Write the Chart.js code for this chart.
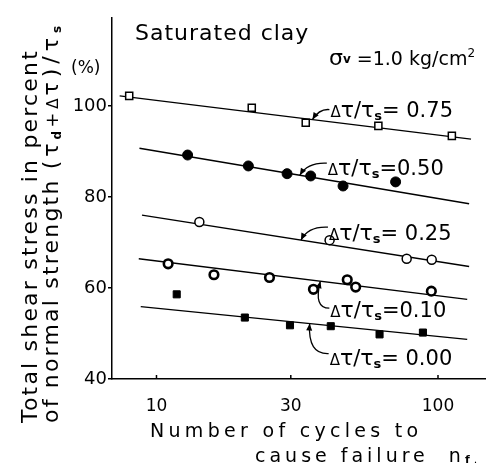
<!DOCTYPE html>
<html>
<head>
<meta charset="utf-8">
<script src="https://cdn.jsdelivr.net/npm/chart.js@4.4.1/dist/chart.umd.min.js"></script>
<style>
  html, body { margin: 0; padding: 0; background: #fff; }
  #wrap { width: 492px; height: 465px; position: relative; }
</style>
</head>
<body>
<div id="wrap"><canvas id="fatigue"></canvas></div>
<script>
const FONT = '"DejaVu Sans", sans-serif';

// axis ticks
const xTicks = [10, 30, 100];
const yTicks = [40, 60, 80, 100];

// Δτ/τs groups
const ratios = ['0.75', '0.50', '0.25', '0.10', '0.00'];

// measured points: cycles to failure / total shear stress (%)
const cycles075 = [8.0, 21.8, 33.9, 61.4, 112];
const stress075 = [102.2, 99.6, 96.3, 95.6, 93.4];
const cycles050 = [12.9, 21.2, 29.1, 35.3, 46.0, 70.7];
const stress050 = [89.2, 86.8, 85.1, 84.6, 82.4, 83.3];
const cycles025 = [14.2, 41.2, 77.4, 95];
const stress025 = [74.5, 70.5, 66.4, 66.2];
const cycles010 = [11.0, 16.0, 25.2, 36.1, 47.6, 51.0, 94.7];
const stress010 = [65.3, 62.9, 62.3, 59.7, 61.8, 60.2, 59.3];
const cycles000 = [11.8, 20.6, 29.8, 41.6, 62.0, 88.4];
const stress000 = [58.6, 53.5, 51.8, 51.6, 49.8, 50.2];

// fitted lines (start / end) per group
const fitStartN = [7.4, 8.7, 8.88, 8.65, 8.79];
const fitStartV = [102.2, 90.7, 76.0, 66.4, 55.9];
const fitEndN = [131, 129, 129, 127, 127];
const fitEndV = [92.7, 78.5, 64.7, 57.5, 48.7];

// where each label arrow touches its line (cycles)
const arrowAt = [35.8, 32.3, 32.6, 38.2, 35.0];

const pts = (xs, ys) => xs.map((x, i) => ({ x: x, y: ys[i] }));

const markerStyles = [
  { pointStyle: 'rect', pointRadius: 5, backgroundColor: '#fff', borderWidth: 1.5 },
  { pointStyle: 'circle', pointRadius: 5, backgroundColor: '#000', borderWidth: 1 },
  { pointStyle: 'circle', pointRadius: 4.5, backgroundColor: '#fff', borderWidth: 1.5 },
  { pointStyle: 'circle', pointRadius: 4.3, backgroundColor: '#fff', borderWidth: 2.6 },
  { pointStyle: 'rect', pointRadius: 5, backgroundColor: '#000', borderWidth: 1 }
];

const pointSets = [
  pts(cycles075, stress075),
  pts(cycles050, stress050),
  pts(cycles025, stress025),
  pts(cycles010, stress010),
  pts(cycles000, stress000)
];

const datasets = [];
pointSets.forEach((d, i) => {
  datasets.push(Object.assign({
    label: 'Δτ/τs = ' + ratios[i],
    data: d,
    borderColor: '#000',
    showLine: false,
    order: 0
  }, markerStyles[i]));
  datasets.push({
    label: 'fit ' + ratios[i],
    data: [{ x: fitStartN[i], y: fitStartV[i] }, { x: fitEndN[i], y: fitEndV[i] }],
    showLine: true,
    borderColor: '#000',
    borderWidth: 1.4,
    pointRadius: 0,
    order: 1
  });
});

// label placement relative to arrow tip: text (dx,dy), curve start (sx,sy), control (cx,cy)
const labelGeom = [
  { dx: 18, dy: -3, sx: 17, sy: -10, cx: 7, cy: -11, eq: '= 0.75' },
  { dx: 28, dy: 0, sx: 27, sy: -12, cx: 8, cy: -13, eq: '=0.50' },
  { dx: 28, dy: 0, sx: 27, sy: -13, cx: 7, cy: -14, eq: '= 0.25' },
  { dx: 10, dy: 36, sx: 9, sy: 27, cx: -7, cy: 27, eq: '=0.10' },
  { dx: 20, dy: 41, sx: 19, sy: 30, cx: -2, cy: 31, eq: '= 0.00' }
];

// parts: [text, size, baseline shift, weight, letter spacing]
function drawRuns(ctx, x, y, parts, spacing) {
  parts.forEach(p => {
    ctx.letterSpacing = (p[4] !== undefined ? p[4] : (spacing || 0)) + 'px';
    ctx.font = (p[3] || '') + ' ' + p[1] + 'px ' + FONT;
    ctx.fillText(p[0], x, y + (p[2] || 0));
    x += ctx.measureText(p[0]).width;
  });
  ctx.letterSpacing = '0px';
  return x;
}

function fitValue(i, n) {
  const t = (Math.log10(n) - Math.log10(fitStartN[i])) / (Math.log10(fitEndN[i]) - Math.log10(fitStartN[i]));
  return fitStartV[i] + t * (fitEndV[i] - fitStartV[i]);
}

const decorations = {
  id: 'decorations',
  afterDraw(chart) {
    const ctx = chart.ctx;
    const xs = chart.scales.x, ys = chart.scales.y;
    ctx.save();
    ctx.fillStyle = '#000';
    ctx.strokeStyle = '#000';
    ctx.textBaseline = 'alphabetic';
    ctx.textAlign = 'left';

    // inward ticks on the cycle axis
    ctx.lineWidth = 1.5;
    xTicks.forEach(v => {
      const px = xs.getPixelForValue(v);
      ctx.beginPath();
      ctx.moveTo(px, ys.bottom);
      ctx.lineTo(px, ys.bottom - 4);
      ctx.stroke();
    });

    // headings inside the plot
    drawRuns(ctx, 135, 40, [['Saturated clay', 22]], 1);
    drawRuns(ctx, 329, 65, [['σ', 22], ['v', 12, -2, 'bold'], [' =1.0 kg/cm', 19], ['2', 12, -8]], 0);
    drawRuns(ctx, 71, 73, [['(%)', 17]], 0);

    // group labels with curved arrows
    labelGeom.forEach((g, i) => {
      const tx = xs.getPixelForValue(arrowAt[i]);
      const ty = ys.getPixelForValue(fitValue(i, arrowAt[i]));
      drawRuns(ctx, tx + g.dx, ty + g.dy, [
        ['Δ', 15], ['τ', 22], ['/', 21], ['τ', 22], ['s', 13, 3, 'bold'], [g.eq, 21]
      ], 0);
      const cx = tx + g.cx, cy = ty + g.cy;
      ctx.lineWidth = 1.3;
      ctx.beginPath();
      ctx.moveTo(tx + g.sx, ty + g.sy);
      ctx.quadraticCurveTo(cx, cy, tx, ty);
      ctx.stroke();
      const a = Math.atan2(ty - cy, tx - cx);
      ctx.beginPath();
      ctx.moveTo(tx, ty);
      ctx.lineTo(tx - 7 * Math.cos(a) + 3 * Math.sin(a), ty - 7 * Math.sin(a) - 3 * Math.cos(a));
      ctx.lineTo(tx - 7 * Math.cos(a) - 3 * Math.sin(a), ty - 7 * Math.sin(a) + 3 * Math.cos(a));
      ctx.closePath();
      ctx.fill();
    });

    // axis titles
    drawRuns(ctx, 150, 437, [['Number of cycles to', 19]], 4.3);
    drawRuns(ctx, 255, 462, [['cause failure  n', 19], ['f', 11, 1, 'bold'], ['.', 11, 1]], 4);

    ctx.save();
    ctx.translate(37, 423);
    ctx.rotate(-Math.PI / 2);
    drawRuns(ctx, 0, 0, [['Total shear stress in percent', 22]], 2.2);
    ctx.restore();
    ctx.save();
    ctx.translate(58, 423);
    ctx.rotate(-Math.PI / 2);
    drawRuns(ctx, 0, 0, [
      ['of normal strength ', 22, 0, '', 2.2], ['(τ', 22, 0, '', 4], ['d', 12, 3, 'bold', 3],
      ['+', 18, 0, '', 4], ['Δ', 15, 0, '', 3], ['τ)/τ', 22, 0, '', 5], ['s', 12, 3, 'bold', 2]
    ], 2.2);
    ctx.restore();

    ctx.restore();
  }
};

new Chart(document.getElementById('fatigue'), {
  type: 'scatter',
  data: { datasets: datasets },
  options: {
    responsive: true,
    maintainAspectRatio: false,
    animation: false,
    layout: { padding: { top: 18, right: 2, left: 0, bottom: 0 } },
    plugins: { legend: { display: false }, tooltip: { enabled: false } },
    scales: {
      x: {
        type: 'logarithmic',
        min: 6.95,
        max: 147,
        grid: { display: false },
        border: { display: true, color: '#000', width: 1.5 },
        ticks: {
          color: '#000',
          font: { family: FONT, size: 17 },
          padding: 9,
          autoSkip: false,
          maxRotation: 0,
          callback: v => String(v)
        },
        afterBuildTicks: s => { s.ticks = xTicks.map(v => ({ value: v })); },
        afterFit: s => { s.height = 86; }
      },
      y: {
        min: 40,
        max: 119.3,
        grid: { display: true, drawOnChartArea: false, drawTicks: true, tickLength: 4, color: '#000', lineWidth: 1.5 },
        border: { display: true, color: '#000', width: 1.5 },
        ticks: {
          color: '#000',
          font: { family: FONT, size: 18 },
          padding: 1
        },
        afterBuildTicks: s => { s.ticks = yTicks.map(v => ({ value: v })); },
        afterFit: s => { s.width = 112; }
      }
    }
  },
  plugins: [decorations]
});
</script>
</body>
</html>
